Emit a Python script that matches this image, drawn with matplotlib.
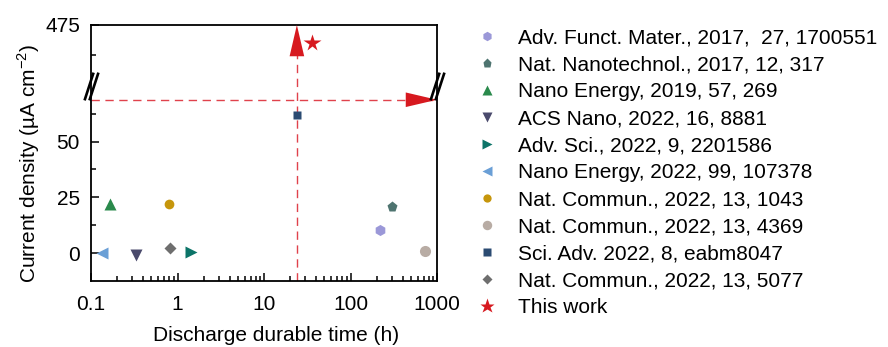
import numpy as np
import matplotlib
matplotlib.use("Agg")
import matplotlib.pyplot as plt
from matplotlib.path import Path
from matplotlib.ticker import FixedLocator, FuncFormatter, LogLocator, NullFormatter

plt.rcParams['font.family'] = ['Liberation Sans', 'DejaVu Sans']
plt.rcParams['mathtext.fontset'] = 'custom'
plt.rcParams['mathtext.rm'] = 'Liberation Sans'
plt.rcParams['font.size'] = 15

# literature values: discharge durable time (h) vs current density (uA cm-2)
refs = ["Adv. Funct. Mater., 2017,  27, 1700551",
        "Nat. Nanotechnol., 2017, 12, 317",
        "Nano Energy, 2019, 57, 269",
        "ACS Nano, 2022, 16, 8881",
        "Adv. Sci., 2022, 9, 2201586",
        "Nano Energy, 2022, 99, 107378",
        "Nat. Commun., 2022, 13, 1043",
        "Nat. Commun., 2022, 13, 4369",
        "Sci. Adv. 2022, 8, eabm8047",
        "Nat. Commun., 2022, 13, 5077"]
hours = [219, 304, 0.166, 0.33, 1.42, 0.133, 0.80, 726, 24, 0.82]
current = [10.3, 20.7, 22, -1, 0.5, 0, 22, 0.8, 62, 2.2]

this_hours = 36
this_current = 460

guide_time = 24
guide_current = 68.75

markers = ['h', 'p', '^', 'v', '>', '<', 'o', 'o', 's', 'D']
colors = ['#9b98d8', '#4e7470', '#2a8a4c', '#4a4a6c', '#0c7468', '#6a9fd6',
          '#c6960c', '#b8aca4', '#2b4b72', '#6e6e6e']
sizes = [8, 8, 8, 8, 8, 8, 7, 8, 6, 6]
red = '#d7191f'

# broken y axis: linear below 75, compressed above 425
lo_top, hi_bot, k = 75, 425, 0.545
xp = [-1e4, lo_top, hi_bot, 1e5]
fp = [-1e4, lo_top, lo_top + 0.01, lo_top + 0.01 + (1e5 - hi_bot) * k]


def fwd(y):
    return np.interp(y, xp, fp)


def inv(t):
    return np.interp(t, fp, xp)


fig = plt.figure(figsize=(8.88, 3.47), dpi=100)
ax = fig.add_axes([91 / 888, 1 - 281 / 347, 346 / 888, 256 / 347])
ax.set_xscale('log')
ax.set_yscale('function', functions=(fwd, inv))
ax.set_xlim(0.1, 1000)
ax.set_ylim(-12.5, 475)

for h, c, m, col, s, lab in zip(hours, current, markers, colors, sizes, refs):
    ax.plot(h, c, ls='none', marker=m, color=col, ms=s, mec='none', label=lab)
ax.plot(this_hours, this_current, ls='none', marker='*', color=red, ms=13,
        mec='none', label='This work', clip_on=False)

# guide lines with arrow heads
ax.plot([guide_time, guide_time], [-12.5, 470], color='#e0424c', lw=1,
        dashes=[6, 4], zorder=1)
ax.plot([0.1, 900], [guide_current, guide_current], color='#e0424c', lw=1,
        dashes=[6, 4], zorder=1)
head = dict(arrowstyle='-|>,head_length=1.5,head_width=0.35', fc=red, ec='none',
            lw=0, mutation_scale=15, shrinkA=0, shrinkB=0)
ax.annotate('', xy=(guide_time, 475), xytext=(guide_time, 440),
            arrowprops=head, annotation_clip=False)
ax.annotate('', xy=(1000, guide_current), xytext=(300, guide_current),
            arrowprops=head, annotation_clip=False)

# break marks on both spines
brk = Path([(-0.5, -1), (0.15, 1), (-0.15, -1), (0.5, 1)],
           [Path.MOVETO, Path.LINETO, Path.MOVETO, Path.LINETO])
ax.plot([0, 1], [lo_top + 0.005, lo_top + 0.005], transform=ax.get_yaxis_transform(),
        ls='none', marker=brk, ms=20, mew=1.9, color='k', clip_on=False, zorder=5)

ax.yaxis.set_major_locator(FixedLocator([0, 25, 50, 475]))
ax.yaxis.set_minor_locator(FixedLocator([12.5, 37.5, 62.5, 450]))
ax.yaxis.set_major_formatter(FuncFormatter(lambda v, p: '%g' % v))
ax.xaxis.set_major_locator(LogLocator(base=10))
ax.xaxis.set_minor_locator(LogLocator(base=10, subs=np.arange(2, 10)))
ax.xaxis.set_major_formatter(FuncFormatter(lambda v, p: '%g' % v))
ax.xaxis.set_minor_formatter(NullFormatter())

ax.tick_params(which='both', direction='in', width=1.1, top=False, right=False)
ax.tick_params(which='major', length=6, pad=8)
ax.tick_params(axis='x', which='major', pad=10)
ax.tick_params(which='minor', length=3.5)
for sp in ax.spines.values():
    sp.set_linewidth(1.3)

ax.set_xlabel('Discharge durable time (h)', labelpad=9, x=0.535)
ax.set_ylabel('Current density (µA cm$^{\\mathregular{-2}}$)', labelpad=2, y=0.46)

fig.legend(loc='upper left', bbox_to_anchor=(474 / 888, 1 - 28 / 347),
           frameon=False, markerscale=0.85, handlelength=1.2, handletextpad=0.9,
           labelspacing=0.385, borderaxespad=0, borderpad=0)

fig.savefig('out.png', dpi=100)
